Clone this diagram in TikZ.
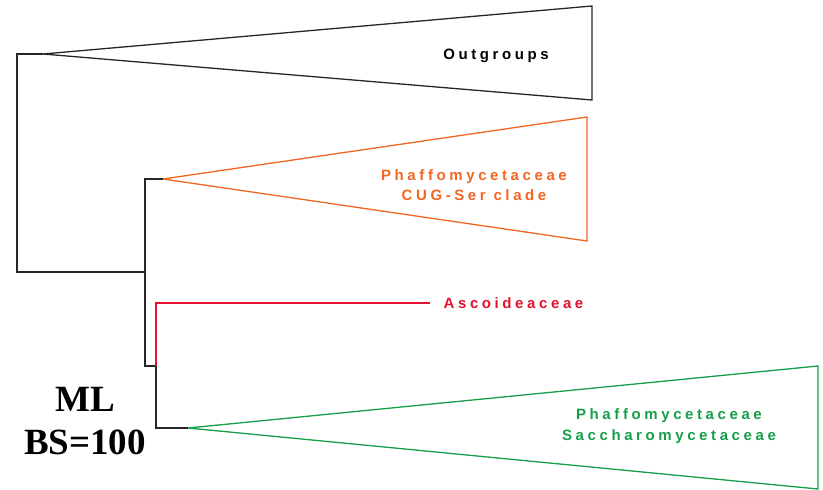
\documentclass[tikz,border=0pt]{standalone}
\usepackage{fontspec}
\setmainfont{Liberation Serif}
\newfontfamily\cladefont[LetterSpace=24]{Liberation Sans}
\usetikzlibrary{positioning}

\definecolor{cugorange}{RGB}{242,101,34}
\definecolor{ascred}{RGB}{228,18,45}
\definecolor{sacgreen}{RGB}{22,158,72}

\begin{document}
\begin{tikzpicture}[x=1pt,y=-1pt,line width=1.3pt,line join=miter,
    clade/.style={align=center, font=\cladefont\fontsize{15}{20}\selectfont\bfseries, inner sep=0pt, anchor=base},
    branch/.style={draw=black!85}]
    \useasboundingbox (0,0) rectangle (823,490);
    % tree points
    \coordinate (r-top) at (17,54);
    \coordinate (r-bot) at (17,272);
    \coordinate (n1) at (145,272);
    \coordinate (n1-top) at (145,179);
    \coordinate (n1-bot) at (145,366);
    \coordinate (n2) at (156,366);
    \coordinate (n2-top) at (156,303);
    \coordinate (n2-bot) at (156,428);
    \coordinate (og-tip) at (43,54);
    \coordinate (cug-tip) at (163,179);
    \coordinate (asc-end) at (430,303);
    \coordinate (sac-tip) at (188,428);
    % collapsed clades
    \draw[black!85] (og-tip) -- (592,6) -- (592,100) -- cycle;
    \draw[cugorange] (cug-tip) -- (587,117) -- (587,241) -- cycle;
    \draw[sacgreen] (sac-tip) -- (818,366) -- (818,489) -- cycle;
    % branches
    \draw[branch] (og-tip) -- (r-top) -- (r-bot) -- (n1);
    \draw[branch] (cug-tip) -- (n1-top) -- (n1-bot) -- (n2);
    \draw[branch] (n2) -- (n2-bot) -- (sac-tip);
    \draw[ascred] (n2) -- (n2-top) -- (asc-end);
    % labels
    \node[clade] at (496,59) (og) {Outgroups};
    \node[clade, text=cugorange] at (474,200) (cug) {Phaffomycetaceae\\CUG-Ser clade};
    \node[clade, text=ascred, anchor=base west] at (443,308) (asc) {Ascoideaceae};
    \node[clade, text=sacgreen, font=\cladefont\fontsize{15}{21}\selectfont\bfseries] at (669,440) (sac) {Phaffomycetaceae\\Saccharomycetaceae};
    \node[align=center, font=\fontsize{37}{43}\selectfont\bfseries] at (85,421) (ml) {ML\\BS=100};
\end{tikzpicture}
\end{document}
